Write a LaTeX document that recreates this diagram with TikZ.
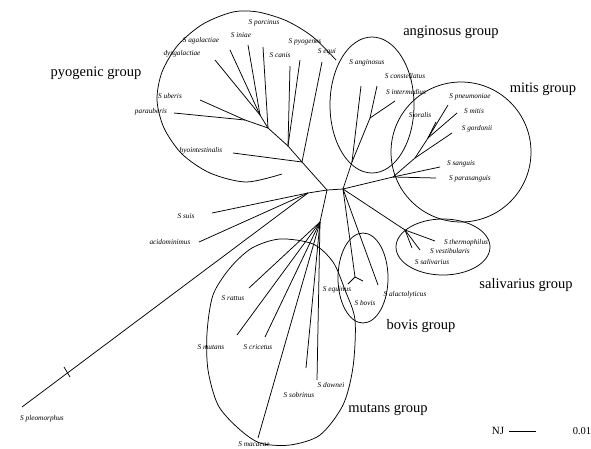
\documentclass[tikz,border=0pt]{standalone}
\usepackage{fontspec}
\setmainfont{Liberation Serif}
\begin{document}
\begin{tikzpicture}[x=1pt,y=-1pt,
  br/.style={line width=0.75pt},
  grp/.style={line width=0.75pt},
  sp/.style={font=\fontsize{7.3}{8}\selectfont\itshape, inner sep=0pt},
  gl/.style={font=\fontsize{14.5}{16}\selectfont, inner sep=0pt},
  sc/.style={font=\fontsize{11}{12}\selectfont, inner sep=0pt}]
\useasboundingbox (0,0) rectangle (591,448);
\fill[white] (0,0) rectangle (591,448);

% ---------- group outlines ----------
\draw[grp] plot[smooth] coordinates {(282,174) (246,182) (210,173) (182,154) (164,128) (157,100) (162,72) (178,45) (203,24) (233,12) (258,12) (287,21) (313,37) (336,60)};
\draw[grp] (372,105) ellipse [x radius=42pt, y radius=68pt];
\draw[grp] (461,152) circle [radius=70pt];
\draw[grp] (443,247) ellipse [x radius=47pt, y radius=28pt];
\draw[grp] (363,278) ellipse [x radius=25pt, y radius=45pt];
\draw[grp] plot[smooth cycle] coordinates {(280,239) (313,244) (333,262) (345,290) (355,320) (353,367) (343,405) (320,435) (290,445) (260,443) (238,428) (218,405) (208,370) (207,333) (213,295) (230,268) (252,248)};

% ---------- internal nodes ----------
\coordinate (A) at (327,190);
\coordinate (B) at (343,189);
\coordinate (C) at (302,162);
\coordinate (P1) at (288,146);
\coordinate (P2) at (268,128);
\coordinate (P3) at (260,115);
\coordinate (P4) at (245,120);
\coordinate (L) at (308,193);
\coordinate (Mu) at (320,222);
\coordinate (Bv) at (355,277);
\coordinate (Sal) at (405,230);
\coordinate (M1) at (393,177);
\coordinate (M2) at (415,158);
\coordinate (M3) at (428,138);
\coordinate (Ang) at (352,162);
\coordinate (Ang2) at (370,118);

% ---------- tips ----------
\coordinate (tporc) at (263,47);
\coordinate (tini) at (248,45);
\coordinate (taga) at (230,50);
\coordinate (tdys) at (215,60);
\coordinate (tcan) at (290,66);
\coordinate (tpyo) at (300,60);
\coordinate (tequi) at (322,62);
\coordinate (tube) at (200,100);
\coordinate (tpar) at (174,113);
\coordinate (thyo) at (233,153);
\coordinate (tsuis) at (212,213);
\coordinate (tacid) at (199,242);
\coordinate (tpleo) at (22,407);
\coordinate (tk1) at (64,367);
\coordinate (tk2) at (70,377);
\coordinate (trat) at (249,288);
\coordinate (tmut) at (237,335);
\coordinate (tcri) at (265,337);
\coordinate (tmac) at (258,438);
\coordinate (tsob) at (306,368);
\coordinate (tdow) at (317,380);
\coordinate (tequin) at (348,284);
\coordinate (tbov) at (363,281);
\coordinate (talac) at (378,285);
\coordinate (tther) at (435,241);
\coordinate (tvest) at (420,250);
\coordinate (tsal) at (412,248);
\coordinate (tang) at (361,86);
\coordinate (tcon) at (377,86);
\coordinate (tint) at (395,101);
\coordinate (tpneu) at (448,105);
\coordinate (tmit) at (457,113);
\coordinate (tora) at (436,122);
\coordinate (tgor) at (452,133);
\coordinate (tsan) at (440,167);
\coordinate (tpsan) at (436,178);

% ---------- branches ----------
\draw[br] (A) -- (B);
\draw[br] (A) -- (C);
\draw[br] (C) -- (P1);
\draw[br] (P1) -- (tcan);
\draw[br] (P1) -- (tpyo);
\draw[br] (P1) -- (P2);
\draw[br] (P2) -- (tporc);
\draw[br] (P2) -- (P3);
\draw[br] (P3) -- (tini);
\draw[br] (P3) -- (taga);
\draw[br] (P3) -- (tdys);
\draw[br] (P2) -- (P4);
\draw[br] (P4) -- (tube);
\draw[br] (P4) -- (tpar);
\draw[br] (C) -- (tequi);
\draw[br] (C) -- (thyo);
\draw[br] (A) -- (L);
\draw[br] (L) -- (tsuis);
\draw[br] (L) -- (tacid);
\draw[br] (L) -- (tpleo);
\draw[br] (tk1) -- (tk2);
\draw[br] (A) -- (Mu);
\draw[br] (Mu) -- (trat);
\draw[br] (Mu) -- (tmut);
\draw[br] (Mu) -- (tcri);
\draw[br] (Mu) -- (tmac);
\draw[br] (Mu) -- (tsob);
\draw[br] (Mu) -- (tdow);
\draw[br] (B) -- (Bv);
\draw[br] (Bv) -- (tequin);
\draw[br] (Bv) -- (tbov);
\draw[br] (B) -- (talac);
\draw[br] (B) -- (Sal);
\draw[br] (Sal) -- (tther);
\draw[br] (Sal) -- (tvest);
\draw[br] (Sal) -- (tsal);
\draw[br] (B) -- (Ang);
\draw[br] (Ang) -- (tang);
\draw[br] (Ang) -- (Ang2);
\draw[br] (Ang2) -- (tcon);
\draw[br] (Ang2) -- (tint);
\draw[br] (B) -- (M1);
\draw[br] (M1) -- (tsan);
\draw[br] (M1) -- (tpsan);
\draw[br] (M1) -- (M2);
\draw[br] (M2) -- (tgor);
\draw[br] (M2) -- (M3);
\draw[br] (M3) -- (tpneu);
\draw[br] (M3) -- (tmit);
\draw[br] (M3) -- (tora);

% ---------- species labels ----------
\node[sp] (lporc) at (264,23) {S porcinus};
\node[sp] (lini) at (241,35) {S iniae};
\node[sp] (laga) at (201,41) {S agalactiae};
\node[sp] (ldys) at (182,54) {dysgalactiae};
\node[sp] (lcan) at (280,55) {S canis};
\node[sp] (lpyo) at (305,42) {S pyogenes};
\node[sp] (lequi) at (327,52) {S equi};
\node[sp] (lube) at (170,96) {S uberis};
\node[sp] (lpar) at (151,112) {parauberis};
\node[sp] (lhyo) at (201,151) {hyointestinalis};
\node[sp] (lsuis) at (186,216) {S suis};
\node[sp] (lacid) at (170,242) {acidominimus};
\node[sp] (lpleo) at (42,419) {S pleomorphus};
\node[sp] (lrat) at (233,298) {S rattus};
\node[sp] (lmut) at (211,347) {S mutans};
\node[sp] (lcri) at (258,347) {S cricetus};
\node[sp] (lsob) at (299,395) {S sobrinus};
\node[sp] (ldow) at (331,385) {S downei};
\node[sp] (lmac) at (254,444) {S macacae};
\node[sp] (lequin) at (337,290) {S equinus};
\node[sp] (lbov) at (365,303) {S bovis};
\node[sp] (lalac) at (405,295) {S alactolyticus};
\node[sp] (lther) at (466,243) {S thermophilus};
\node[sp] (lvest) at (450,251) {S vestibularis};
\node[sp] (lsal) at (432,262) {S salivarius};
\node[sp] (lang) at (367,63) {S anginosus};
\node[sp] (lcon) at (405,76) {S constellatus};
\node[sp] (lint) at (406,92) {S intermedius};
\node[sp] (lpneu) at (470,97) {S pneumoniae};
\node[sp] (lmit) at (474,111) {S mitis};
\node[sp] (lora) at (420,115) {S oralis};
\node[sp] (lgor) at (477,129) {S gordonii};
\node[sp] (lsan) at (461,164) {S sanguis};
\node[sp] (lpsan) at (470,179) {S parasanguis};

% ---------- group labels ----------
\node[gl] (gpyo) at (96,73) {pyogenic group};
\node[gl] (gang) at (451,32) {anginosus group};
\node[gl] (gmit) at (543,89) {mitis group};
\node[gl] (gsal) at (526,285) {salivarius group};
\node[gl] (gbov) at (421,326) {bovis group};
\node[gl] (gmut) at (388,410) {mutans group};

% ---------- scale bar ----------
\node[sc] (nj) at (498,431) {NJ};
\coordinate (s1) at (509,431);
\coordinate (s2) at (536,431);
\draw[br] (s1) -- (s2);
\node[sc, font=\fontsize{10.5}{12}\selectfont] (sv) at (582,431) {0.01};
\end{tikzpicture}
\end{document}
